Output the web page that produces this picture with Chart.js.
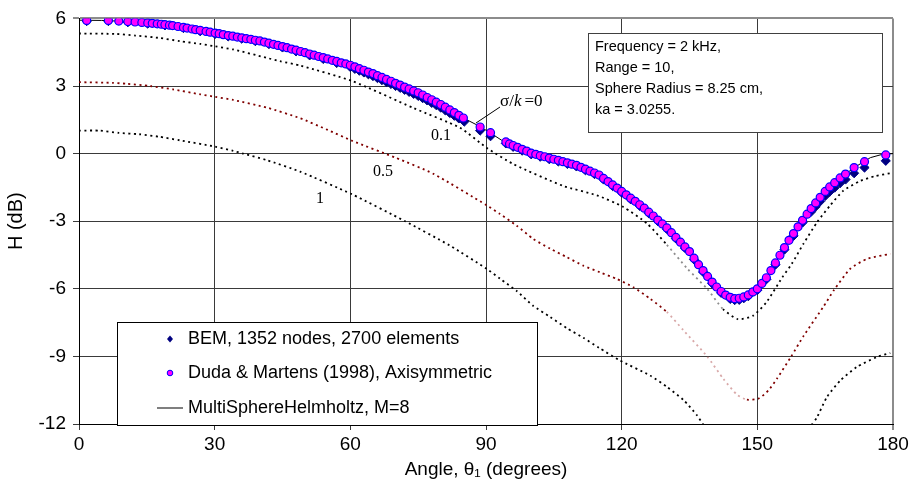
<!DOCTYPE html>
<html>
<head>
<meta charset="utf-8">
<script src="https://cdn.jsdelivr.net/npm/chart.js@4.4.1/dist/chart.umd.min.js"></script>
<style>
  html, body { margin: 0; padding: 0; background: #fff; }
  #wrap { width: 914px; height: 501px; }
</style>
</head>
<body>
<div id="wrap"><canvas id="c" width="914" height="501"></canvas></div>
<script>
// ---------- data ----------
const xTicks = [0, 30, 60, 90, 120, 150, 180];
const yTicks = [-12, -9, -6, -3, 0, 3, 6];

// Duda & Martens (1998), Axisymmetric  (sigma/k = 0)
const dudaAngles = [1.7,6.5,8.8,10.8,12.4,13.9,15.2,16.2,17.3,18.2,19.0,20.0,20.7,21.9,23.1,23.9,25.0,25.8,26.8,28.1,29.0,30.1,31.0,31.9,33.0,34.0,35.0,36.0,37.0,38.0,39.0,40.0,41.0,42.0,43.0,44.0,45.0,46.0,47.0,48.0,49.0,50.0,51.0,52.0,53.0,54.0,55.0,56.0,57.0,58.0,59.0,60.0,61.0,62.0,63.0,64.0,65.0,66.0,67.0,68.0,69.0,70.0,71.0,72.0,73.0,74.0,75.0,76.0,77.0,78.0,79.0,80.0,81.0,82.0,83.0,84.0,85.0,88.7,91.0,94.4,95.2,96.0,97.0,98.0,99.0,100.0,101.0,102.0,103.0,104.0,105.0,106.0,107.0,108.0,109.0,110.0,111.0,112.0,113.0,114.0,115.0,116.0,117.0,118.0,119.0,120.0,121.0,122.0,123.0,124.0,125.0,126.0,127.0,128.0,129.0,130.0,131.0,132.0,133.0,134.0,135.0,136.0,137.0,138.0,139.0,140.0,141.0,142.0,143.0,144.0,145.0,146.0,147.0,148.0,149.0,150.0,151.0,152.0,153.0,154.0,155.0,156.0,157.0,158.0,159.0,160.0,161.0,161.9,162.9,163.9,165.0,166.0,167.1,168.3,169.5,171.4,173.7,178.4];
const dudaH = [5.91,5.91,5.88,5.86,5.84,5.82,5.80,5.78,5.76,5.74,5.72,5.70,5.68,5.64,5.60,5.57,5.53,5.50,5.47,5.42,5.39,5.35,5.32,5.28,5.24,5.21,5.17,5.14,5.10,5.07,5.03,5.00,4.95,4.90,4.85,4.80,4.75,4.70,4.64,4.59,4.53,4.48,4.42,4.37,4.31,4.26,4.20,4.14,4.09,4.03,3.98,3.92,3.85,3.77,3.70,3.62,3.55,3.46,3.38,3.29,3.21,3.12,3.04,2.95,2.87,2.78,2.70,2.60,2.49,2.39,2.28,2.18,2.06,1.94,1.82,1.70,1.58,1.18,0.93,0.52,0.43,0.36,0.28,0.19,0.11,0.02,-0.03,-0.09,-0.14,-0.20,-0.25,-0.30,-0.36,-0.41,-0.47,-0.52,-0.61,-0.69,-0.78,-0.86,-0.95,-1.10,-1.24,-1.39,-1.53,-1.68,-1.83,-1.98,-2.12,-2.27,-2.42,-2.60,-2.77,-2.95,-3.12,-3.30,-3.51,-3.72,-3.93,-4.14,-4.35,-4.64,-4.93,-5.19,-5.45,-5.70,-5.92,-6.12,-6.28,-6.38,-6.44,-6.42,-6.36,-6.27,-6.14,-6.00,-5.76,-5.51,-5.19,-4.85,-4.51,-4.17,-3.85,-3.55,-3.25,-2.96,-2.69,-2.44,-2.19,-1.94,-1.68,-1.48,-1.29,-1.08,-0.91,-0.62,-0.36,-0.06];

// BEM, 1352 nodes, 2700 elements
const bemAngles = [1.7,6.5,10.8,15.2,19.0,23.1,26.8,30.1,33.0,36.0,39.0,42.0,45.0,48.0,51.0,54.0,57.0,60.0,61.0,62.0,63.0,64.0,65.0,66.0,67.0,68.0,69.0,70.0,71.0,72.0,73.0,74.0,75.0,76.0,77.0,78.0,79.0,80.0,81.0,82.0,83.0,84.0,85.2,88.7,91.0,94.4,96.0,98.0,100.0,102.0,104.0,106.0,108.0,110.0,112.0,114.0,116.0,118.0,120.0,122.0,124.0,126.0,128.0,130.0,132.0,134.0,136.0,138.0,140.0,142.0,144.0,145.0,146.0,147.0,148.0,150.0,152.0,154.0,156.0,158.0,160.0,161.9,162.9,163.9,165.0,166.0,167.1,168.3,169.5,171.4,173.7,178.4];
const bemH = [5.88,5.88,5.83,5.77,5.69,5.57,5.43,5.31,5.20,5.10,4.99,4.86,4.71,4.54,4.36,4.20,4.02,3.84,3.76,3.68,3.60,3.52,3.44,3.35,3.26,3.17,3.09,3.00,2.92,2.83,2.74,2.65,2.56,2.46,2.36,2.25,2.15,2.04,1.92,1.80,1.68,1.56,1.42,1.02,0.77,0.45,0.30,0.13,-0.03,-0.14,-0.25,-0.35,-0.46,-0.57,-0.74,-0.91,-1.15,-1.44,-1.73,-2.03,-2.32,-2.65,-3.00,-3.35,-3.77,-4.19,-4.70,-5.25,-5.76,-6.18,-6.45,-6.50,-6.49,-6.42,-6.33,-6.06,-5.58,-4.93,-4.26,-3.65,-3.06,-2.58,-2.35,-2.12,-1.88,-1.69,-1.51,-1.31,-1.15,-0.87,-0.62,-0.32];

// MultiSphereHelmholtz, M=8
const msAngles = [0,5,10,15,20,25,30,35,40,45,50,55,60,65,70,75,80,85,88,90.5,93.4,96,100,105,110,115,120,125,130,135,138,140,142,144,145.5,147,149,151,153,155,157,160,163,166,169,172,175,177.5,180];
const msH = [5.92,5.91,5.87,5.80,5.70,5.53,5.35,5.17,5.00,4.75,4.48,4.20,3.92,3.55,3.12,2.70,2.18,1.58,1.27,0.98,0.60,0.36,0.02,-0.25,-0.52,-0.95,-1.68,-2.42,-3.30,-4.35,-5.19,-5.70,-6.12,-6.38,-6.44,-6.36,-6.14,-5.76,-5.19,-4.51,-3.85,-2.96,-2.17,-1.48,-0.97,-0.55,-0.18,-0.04,0.0];

// sigma/k = 0.1
const s01Angles = [0,8.3,12.4,17.9,22.3,26.8,30.1,34.1,41.5,44.4,48.9,60.4,74,84.3,90.2,96,107,114.5,120.3,125.6,130,134.5,138.9,142.4,145.7,149,152,155.5,157.6,160.2,163.2,166.1,169,172.8,176,179.4];
const s01H = [5.33,5.31,5.24,5.13,4.99,4.87,4.76,4.62,4.25,4.10,3.91,3.22,2.02,1.14,0.25,-0.46,-1.43,-1.85,-2.36,-3.1,-4.05,-5.1,-6.0,-6.9,-7.35,-7.2,-6.6,-5.5,-4.9,-4.0,-3.05,-2.3,-1.65,-1.21,-1.0,-0.87];

// sigma/k = 0.5
const s05Angles = [0,7.5,10.5,15.7,20.8,26.8,30.1,34.1,41.6,48.9,55,60.5,70,78.4,90.2,93.1,96.8,100.4,104.2,107.9,111.5,115.2,118.9,122.6,126.3,130,133.7,138.9,142.5,145.5,147.7,150.3,152.5,154.3,157.5,160.2,164.6,166.9,170.6,174.3,179.4];
const s05H = [3.17,3.14,3.10,3.00,2.85,2.63,2.52,2.38,2.04,1.57,1.05,0.56,-0.18,-0.9,-2.3,-2.68,-3.2,-3.78,-4.22,-4.6,-4.97,-5.27,-5.56,-5.93,-6.44,-7.03,-7.85,-9.0,-10.0,-10.7,-10.92,-10.87,-10.5,-10.0,-9.0,-8.1,-6.8,-6.07,-5.1,-4.67,-4.45];

// sigma/k = 1
const s1Angles = [0,4.6,8.8,13.3,17.7,22.3,30.1,34.1,36.3,41.5,48.9,60.3,72.1,82,90.2,93.1,96.8,100.4,104.2,107.9,111.5,115,119.5,126.3,130,133.7,136.6,138.1,139.5,150,160.5,162,163.2,165.4,168.4,172,176.4,179.4];
const s1H = [1.02,1.02,0.92,0.86,0.75,0.59,0.31,0.12,0.0,-0.29,-0.8,-1.8,-3.0,-4.08,-5.12,-5.55,-6.1,-6.75,-7.25,-7.75,-8.17,-8.62,-9.17,-9.85,-10.35,-10.94,-11.6,-12.05,-12.6,null,-12.7,-12.05,-11.7,-10.8,-10.06,-9.47,-9.03,-8.85];

const curveLabels = [
  { text: '0.1', x: 441, y: 136 },
  { text: '0.5', x: 383, y: 172 },
  { text: '1',   x: 320, y: 199 }
];
const infoLines = ['Frequency = 2 kHz,', 'Range = 10,', 'Sphere Radius = 8.25 cm,', 'ka = 3.0255.'];
const legendItems = ['BEM, 1352 nodes, 2700 elements', 'Duda & Martens (1998), Axisymmetric', 'MultiSphereHelmholtz, M=8'];

// ---------- helpers ----------
const pts = (ax, ay) => ax.map((x, i) => ({ x: x, y: ay[i] }));
const SANS = "'Liberation Sans', Arial, sans-serif";
const SERIF = "'Liberation Serif', 'Times New Roman', serif";

const overlay = {
  id: 'overlay',
  afterDatasetsDraw(chart) {
    const ctx = chart.ctx;
    ctx.save();
    // info box
    ctx.fillStyle = '#fff';
    ctx.fillRect(588, 33, 294, 99);
    ctx.strokeStyle = '#404040';
    ctx.lineWidth = 1;
    ctx.strokeRect(588.5, 33.5, 294, 99);
    ctx.fillStyle = '#000';
    ctx.font = '14.5px ' + SANS;
    ctx.textBaseline = 'middle';
    ctx.textAlign = 'left';
    infoLines.forEach((t, i) => ctx.fillText(t, 595, 47 + i * 21));

    // legend box
    ctx.fillStyle = '#fff';
    ctx.fillRect(117, 322, 420, 103);
    ctx.strokeStyle = '#000';
    ctx.strokeRect(117.5, 322.5, 420, 103);
    ctx.fillStyle = '#000';
    ctx.font = '18px ' + SANS;
    const rows = [339, 373, 408];
    legendItems.forEach((t, i) => ctx.fillText(t, 188, rows[i]));
    // markers
    ctx.fillStyle = '#000080';
    ctx.beginPath();
    ctx.moveTo(170, rows[0] - 3.5); ctx.lineTo(173, rows[0]); ctx.lineTo(170, rows[0] + 3.5); ctx.lineTo(167, rows[0]);
    ctx.closePath(); ctx.fill();
    ctx.fillStyle = '#ff00ff';
    ctx.strokeStyle = '#0000ff';
    ctx.beginPath(); ctx.arc(170, rows[1], 2.8, 0, Math.PI * 2); ctx.fill(); ctx.stroke();
    ctx.strokeStyle = '#555';
    ctx.lineWidth = 1.5;
    ctx.beginPath(); ctx.moveTo(157, rows[2]); ctx.lineTo(183, rows[2]); ctx.stroke();

    // curve labels
    ctx.fillStyle = '#000';
    ctx.textAlign = 'center';
    ctx.font = '16px ' + SERIF;
    curveLabels.forEach(l => ctx.fillText(l.text, l.x, l.y));
    // sigma/k = 0
    ctx.textAlign = 'left';
    let x = 500;
    const y = 102;
    ctx.font = '17px ' + SERIF;
    ctx.fillText('σ/', x, y); x += ctx.measureText('σ/').width;
    ctx.font = 'italic 17px ' + SERIF;
    ctx.fillText('k', x, y); x += ctx.measureText('k').width + 3;
    ctx.font = '17px ' + SERIF;
    ctx.fillText('=0', x, y);
    ctx.strokeStyle = '#000';
    ctx.lineWidth = 1;
    ctx.beginPath(); ctx.moveTo(500, 107); ctx.lineTo(476, 123); ctx.stroke();
    ctx.restore();
  }
};

const fadeSeg = (lo, hi, base, faded) => ({
  borderColor: c => (c.p0.parsed.x >= lo && c.p1.parsed.x <= hi) ? faded : base
});

new Chart(document.getElementById('c'), {
  type: 'scatter',
  data: {
    datasets: [
      { label: legendItems[1], data: pts(dudaAngles, dudaH), order: 1,
        pointStyle: 'circle', pointRadius: 4, pointBackgroundColor: '#ff00ff',
        pointBorderColor: '#0000ff', pointBorderWidth: 1.2, showLine: false },
      { label: legendItems[0], data: pts(bemAngles, bemH), order: 2,
        pointStyle: 'rectRot', pointRadius: 4.6, pointBackgroundColor: '#000080',
        pointBorderColor: '#00008b', pointBorderWidth: 1, showLine: false },
      { label: legendItems[2], data: pts(msAngles, msH), order: 3, showLine: true,
        borderColor: '#000', borderWidth: 1, pointRadius: 0, tension: 0 },
      { label: '0.1', data: pts(s01Angles, s01H), order: 4, showLine: true,
        borderColor: '#000', borderWidth: 1.8, borderDash: [2, 3.5], pointRadius: 0, tension: 0.2,
        segment: fadeSeg(127, 143, '#000', 'rgba(0,0,0,0.45)') },
      { label: '0.5', data: pts(s05Angles, s05H), order: 5, showLine: true,
        borderColor: '#800000', borderWidth: 1.8, borderDash: [2, 3.5], pointRadius: 0, tension: 0.2,
        segment: fadeSeg(128, 148, '#800000', 'rgba(190,110,110,0.6)') },
      { label: '1', data: pts(s1Angles, s1H), order: 6, showLine: true, spanGaps: false,
        borderColor: '#000', borderWidth: 1.8, borderDash: [2, 3.5], pointRadius: 0, tension: 0.2 }
    ]
  },
  options: {
    responsive: false,
    animation: false,
    devicePixelRatio: 1,
    layout: { padding: { top: 17, right: 21, left: 0, bottom: 0 } },
    plugins: { legend: { display: false }, tooltip: { enabled: false } },
    scales: {
      x: {
        type: 'linear', min: 0, max: 180,
        afterFit: s => { s.height = 77; },
        afterBuildTicks: s => { s.ticks = xTicks.map(v => ({ value: v })); },
        ticks: { color: '#000', font: { family: SANS, size: 19 }, padding: 3, maxRotation: 0 },
        grid: { color: c => c.tick && c.tick.value === 180 ? '#8c8c8c' : '#3a3a3a',
                lineWidth: c => c.tick && c.tick.value === 180 ? 2 : 1, tickLength: 6 },
        border: { color: '#000', width: 1 },
        title: { display: true, text: 'Angle, θ₁ (degrees)', color: '#000',
                 font: { family: SANS, size: 19 }, padding: { top: 0, bottom: 20 } }
      },
      y: {
        type: 'linear', min: -12, max: 6,
        afterFit: s => { s.width = 79; },
        afterBuildTicks: s => { s.ticks = yTicks.map(v => ({ value: v })); },
        ticks: { color: '#000', font: { family: SANS, size: 19 }, padding: 7 },
        grid: { color: c => c.tick && c.tick.value === 6 ? '#8c8c8c' : '#3a3a3a',
                lineWidth: c => c.tick && c.tick.value === 6 ? 2 : 1, tickLength: 6 },
        border: { color: '#000', width: 1 },
        title: { display: true, text: 'H (dB)', color: '#000',
                 font: { family: SANS, size: 20 }, padding: { top: 4, bottom: 0 } }
      }
    }
  },
  plugins: [overlay]
});
</script>
</body>
</html>
